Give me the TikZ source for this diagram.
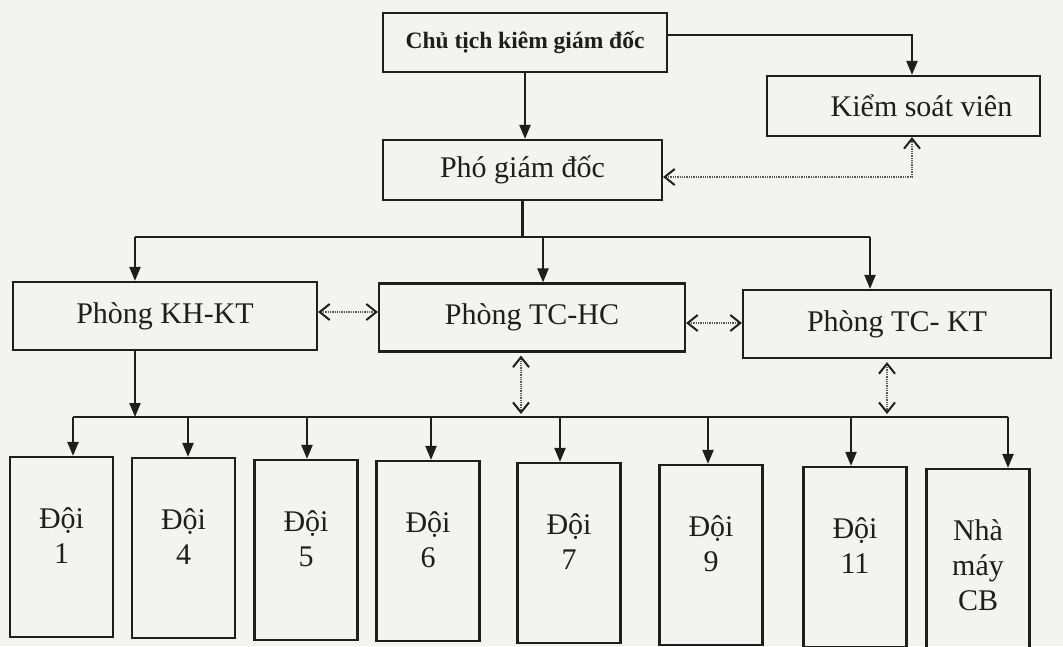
\documentclass[tikz,border=0pt]{standalone}
\usepackage{fontspec}
\setmainfont{Liberation Serif}
\usetikzlibrary{arrows.meta}
\definecolor{ink}{HTML}{1E1E1E}
\definecolor{paper}{HTML}{F3F3F1}
\definecolor{dotink}{HTML}{5A5A5A}
\newcommand\teamtext[3]{\raisebox{0pt}[\dimexpr\height+#1\relax][\dimexpr\depth+#2\relax]{\begin{tabular}{@{}c@{}}#3\end{tabular}}}
\begin{document}
\begin{tikzpicture}[x=1pt,y=-1pt,
  box/.style={draw=ink, line width=2.2pt, rectangle, inner sep=0pt, text=ink,
    font=\fontsize{30}{35}\selectfont, align=center},
  midbox/.style={box, minimum height=68pt},
  teambox/.style={box, minimum width=103pt, minimum height=180pt},
  solidarrow/.style={draw=ink, line width=2.2pt, -{Triangle[length=14pt,width=11pt]}},
  plainline/.style={draw=ink, line width=2.2pt},
  dotarrow/.style={draw=dotink, line width=1.3pt, densely dotted,
    {Straight Barb[length=10pt,width=16pt,line width=2pt,color=ink]}-{Straight Barb[length=10pt,width=16pt,line width=2pt,color=ink]}}
]
\fill[paper] (0,0) rectangle (1063,646);
\useasboundingbox (0,0) rectangle (1063,646);

% top level
\node[box, minimum width=284pt, minimum height=59pt, font=\fontsize{23.5}{28}\selectfont\bfseries] (chu) at (525,42.5) {Chủ tịch kiêm giám đốc};
\node[box, minimum width=273pt, minimum height=60pt] (ksv) at (903.5,106) {\hspace*{36pt}Kiểm soát viên};
\node[box, minimum width=279pt, minimum height=60pt] (pho) at (522.5,170) {Phó giám đốc};

% departments
\node[midbox, minimum width=304pt] (khkt) at (165,316) {Phòng KH-KT};
\node[midbox, minimum width=306pt] (tchc) at (532,317.5) {Phòng TC-HC};
\node[midbox, minimum width=308pt] (tckt) at (897,324) {Phòng TC- KT};

% teams
\node[teambox] (d1) at (61.5,547) {\teamtext{0pt}{16pt}{Đội\\1}};
\node[teambox] (d4) at (183.5,548) {\teamtext{0pt}{16pt}{Đội\\4}};
\node[teambox] (d5) at (306,550) {\teamtext{0pt}{16pt}{Đội\\5}};
\node[teambox] (d6) at (428,551) {\teamtext{0pt}{16pt}{Đội\\6}};
\node[teambox] (d7) at (569,553) {\teamtext{0pt}{16pt}{Đội\\7}};
\node[teambox] (d9) at (711,555) {\teamtext{0pt}{16pt}{Đội\\9}};
\node[teambox] (d11) at (855,557) {\teamtext{0pt}{16pt}{Đội\\11}};
\node[teambox] (nm) at (978,559) {\teamtext{18pt}{0pt}{Nhà\\máy\\CB}};

% branch coordinates
\coordinate (tl) at (135,237);
\coordinate (tm) at (543,237);
\coordinate (tr) at (870,237);
\coordinate (bl) at (73,417);
\coordinate (br) at (1008,417);
\coordinate (b4) at (188,417);
\coordinate (b5) at (307,417);
\coordinate (b6) at (431,417);
\coordinate (b7) at (560,417);
\coordinate (b9) at (708,417);
\coordinate (b11) at (851,417);
\coordinate (kx) at (912,0);

% top connectors
\draw[solidarrow] (chu.south) -- (chu.south |- pho.north);
\draw[solidarrow] (chu.east |- 0,35) -| (kx |- ksv.north);
\draw[dotarrow] (pho.east |- 0,177) -| (kx |- ksv.south);

% director to departments
\draw[plainline] (pho.south) -- (pho.south |- tl);
\draw[plainline] (tl) -- (tr);
\draw[solidarrow] (tl) -- (tl |- khkt.north);
\draw[solidarrow] (tm) -- (tm |- tchc.north);
\draw[solidarrow] (tr) -- (tr |- tckt.north);

% between departments
\draw[dotarrow] (khkt.east |- 0,312) -- (tchc.west |- 0,312);
\draw[dotarrow] (tchc.east |- 0,323) -- (tckt.west |- 0,323);

% departments to team branch
\draw[solidarrow] (tl |- khkt.south) -- (tl |- bl);
\draw[dotarrow, shorten <=3pt, shorten >=3pt] (tchc.south -| 521,0) -- (521,417);
\draw[dotarrow, shorten <=3pt, shorten >=3pt] (tckt.south -| 887,0) -- (887,417);

% team branch
\draw[plainline] (bl) -- (br);
\draw[solidarrow] (bl) -- (bl |- d1.north);
\draw[solidarrow] (b4) -- (b4 |- d4.north);
\draw[solidarrow] (b5) -- (b5 |- d5.north);
\draw[solidarrow] (b6) -- (b6 |- d6.north);
\draw[solidarrow] (b7) -- (b7 |- d7.north);
\draw[solidarrow] (b9) -- (b9 |- d9.north);
\draw[solidarrow] (b11) -- (b11 |- d11.north);
\draw[solidarrow] (br) -- (br |- nm.north);
\end{tikzpicture}
\end{document}
